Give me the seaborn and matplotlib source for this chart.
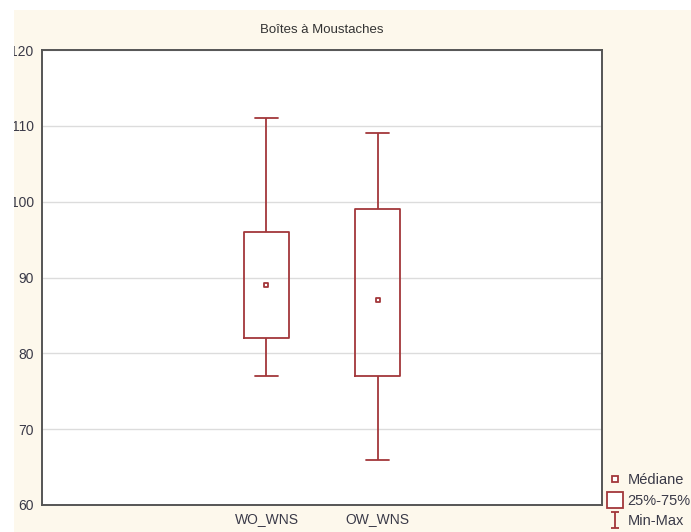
import numpy as np
import pandas as pd
import seaborn as sns
import matplotlib
matplotlib.use("Agg")
import matplotlib.pyplot as plt
from matplotlib.lines import Line2D
from matplotlib.patches import Rectangle
from matplotlib.path import Path

# ---- data (min, Q1, median, Q3, max) ----
categories = ["WO_WNS", "OW_WNS"]
wo_wns = [77, 82, 89, 96, 111]
ow_wns = [66, 77, 87, 99, 109]
medians = [89, 87]
y_ticks = [60, 70, 80, 90, 100, 110, 120]
title = "Boîtes à Moustaches"
legend_labels = ["Médiane", "25%-75%", "Min-Max"]

df = pd.DataFrame({
    "group": [categories[0]] * len(wo_wns) + [categories[1]] * len(ow_wns),
    "value": wo_wns + ow_wns,
})

RED = "#a3373a"
CREAM = "#fdf8ec"
TXT = "#3a3a48"

sns.set_style("white")
plt.rcParams["font.family"] = ["Liberation Sans", "DejaVu Sans"]

fig = plt.figure(figsize=(6.91, 5.32), dpi=100, facecolor="white")
fig.patches.append(Rectangle((0, 0), 1, 1, transform=fig.transFigure,
                             facecolor=CREAM, edgecolor="none", zorder=-5))
ax = fig.add_axes([42 / 691, 27 / 532, 560 / 691, 455 / 532])
ax.set_facecolor("white")

sns.boxplot(data=df, x="group", y="value", order=categories, ax=ax,
            whis=(0, 100), width=0.41, fill=False, color=RED, linewidth=1.3,
            medianprops={"visible": False}, showfliers=False)

pos = np.arange(len(categories))
ax.scatter(pos, medians, marker="s", s=12, facecolor="white",
           edgecolor=RED, linewidth=1.3, zorder=5)

ax.set_xlim(-2.02, 3.02)
ax.set_ylim(60, 120)
ax.set_yticks(y_ticks)
ax.set_yticklabels([str(t) for t in y_ticks])
ax.set_xlabel("")
ax.set_ylabel("")
ax.set_axisbelow(True)
ax.yaxis.grid(True, color="#dcdcdc", linewidth=1.0)
ax.xaxis.grid(False)
for s in ax.spines.values():
    s.set_visible(True)
    s.set_color("#555555")
    s.set_linewidth(1.4)
ax.tick_params(axis="both", direction="in", length=3, width=1, color="#555555",
               labelsize=10, labelcolor=TXT, pad=5)
ax.tick_params(axis="y", pad=6)
ax.set_title(title, fontsize=9.5, color="#333333", pad=12)

# legend
I_path = Path([(-0.5, -1), (0.5, -1), (0, -1), (0, 1), (-0.5, 1), (0.5, 1)],
              [Path.MOVETO, Path.LINETO, Path.MOVETO, Path.LINETO, Path.MOVETO, Path.LINETO])
handles = [
    Line2D([], [], ls="none", marker="s", ms=4, mfc="white", mec=RED, mew=1.3),
    Line2D([], [], ls="none", marker="s", ms=11, mfc="white", mec=RED, mew=1.3),
    Line2D([], [], ls="none", marker=I_path, ms=11, mec=RED, mew=1.3),
]
fig.legend(handles, legend_labels, loc="lower left",
           bbox_to_anchor=(602 / 691, -0.004), frameon=False, fontsize=10.5,
           labelcolor=TXT, handlelength=1.0, handletextpad=0.35,
           labelspacing=0.45, borderaxespad=0)

# white margins of the original screenshot
fig.patches.append(Rectangle((0, 0), 14 / 691, 1, transform=fig.transFigure,
                             facecolor="white", edgecolor="none", zorder=20))
fig.patches.append(Rectangle((0, 522 / 532), 1, 10 / 532, transform=fig.transFigure,
                             facecolor="white", edgecolor="none", zorder=20))

fig.savefig("out.png", dpi=100, facecolor=fig.get_facecolor())
